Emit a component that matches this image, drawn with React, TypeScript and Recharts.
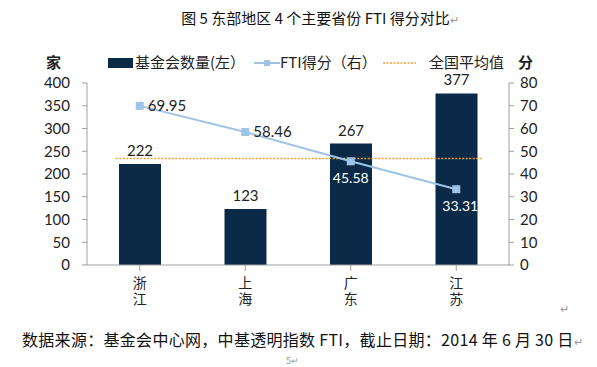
import React from 'react';
import { ComposedChart, Bar, Line, XAxis, YAxis, ReferenceLine, LabelList } from 'recharts';

const provinces = ['浙江', '上海', '广东', '江苏'];
const foundationCounts = [222, 123, 267, 377];
const ftiScores = [69.95, 58.46, 45.58, 33.31];
const nationalAverage = 46.8;
const leftTicks = [0, 50, 100, 150, 200, 250, 300, 350, 400];
const rightTicks = [0, 10, 20, 30, 40, 50, 60, 70, 80];

const chartData = provinces.map((name, i) => ({
  name,
  count: foundationCounts[i],
  fti: ftiScores[i],
}));

const NAVY = '#0B2A47';
const LIGHT_BLUE = '#9DC3E6';
const ORANGE = '#F0A030';
const AXIS = '#A0A0A0';
const FONT = "Lato, 'Noto Sans CJK SC', sans-serif";
const CJK = "'Noto Sans CJK SC', sans-serif";

// province names are written top to bottom, one character per line
function ProvinceTick(props: any) {
  const { x, y, payload } = props;
  const chars = String(payload.value).split('');
  return (
    <g>
      {chars.map((c, i) => (
        <text key={i} x={x} y={y + 15 + i * 16} textAnchor="middle" fontSize={14} fill="#222" fontFamily={CJK}>
          {c}
        </text>
      ))}
    </g>
  );
}

function FtiLabel(props: any) {
  const { x, y, value, index } = props;
  if (index < 2) {
    return (
      <text x={x + 8} y={y + 5} fontSize={15} fill="#222" fontFamily={FONT}>{value}</text>
    );
  }
  return (
    <text x={x + (index === 3 ? 4 : 0)} y={y + 22} textAnchor="middle" fontSize={14} fill="#fff" fontFamily={FONT}>
      {value}
    </text>
  );
}

// dashed average line, running a bit past the outer bars like the original
const averageShape = (p: any) => (
  <line x1={p.x1 - 24} y1={p.y1} x2={p.x2 + 26} y2={p.y2} stroke={ORANGE} strokeWidth={1.5} strokeDasharray="2 1.5" />
);

export default function App() {
  return (
    <div style={{ position: 'absolute', left: 0, top: 0, width: 597, height: 367, background: '#fff', fontFamily: CJK }}>
      <div style={{ position: 'absolute', left: 0, width: 640, top: 7, textAlign: 'center', fontSize: 15, color: '#111' }}>
        图 5 东部地区 4 个主要省份 FTI 得分对比<span style={{ color: '#999', fontSize: 11 }}>↵</span>
      </div>

      <div style={{ position: 'absolute', left: 46, top: 51, fontSize: 15, fontWeight: 'bold', color: '#222' }}>家</div>
      <div style={{ position: 'absolute', left: 518, top: 51, fontSize: 15, fontWeight: 'bold', color: '#222' }}>分</div>
      <div style={{ position: 'absolute', left: 108, top: 58, width: 25, height: 10, background: NAVY }} />
      <div style={{ position: 'absolute', left: 135, top: 51, fontSize: 15, color: '#222' }}>基金会数量(左）</div>
      <svg style={{ position: 'absolute', left: 254, top: 57 }} width={26} height={12}>
        <line x1={0} y1={6} x2={26} y2={6} stroke={LIGHT_BLUE} strokeWidth={2} />
        <rect x={10} y={3} width={6} height={6} fill={LIGHT_BLUE} />
      </svg>
      <div style={{ position: 'absolute', left: 280, top: 51, fontSize: 15, color: '#222' }}>FTI得分（右）</div>
      <svg style={{ position: 'absolute', left: 383, top: 57 }} width={33} height={12}>
        <line x1={0} y1={6} x2={33} y2={6} stroke={ORANGE} strokeWidth={1.5} strokeDasharray="2 1.5" />
      </svg>
      <div style={{ position: 'absolute', left: 429, top: 51, fontSize: 15, color: '#222' }}>全国平均值</div>

      <div style={{ position: 'absolute', left: 0, top: 0 }}>
        <ComposedChart width={597} height={367} data={chartData} margin={{ top: 83, right: 48, bottom: 52, left: 27 }}>
          <XAxis
            dataKey="name"
            tick={<ProvinceTick />}
            tickLine={{ stroke: AXIS }}
            axisLine={{ stroke: AXIS }}
            interval={0}
            height={50}
          />
          <YAxis
            yAxisId="left"
            domain={[0, 400]}
            ticks={leftTicks}
            interval={0}
            width={60}
            tick={{ fontSize: 15, fill: '#222', fontFamily: FONT }}
            tickLine={{ stroke: AXIS }}
            axisLine={{ stroke: AXIS }}
            tickSize={5}
            tickMargin={12}
          />
          <YAxis
            yAxisId="right"
            orientation="right"
            domain={[0, 80]}
            ticks={rightTicks}
            interval={0}
            width={40}
            tick={{ fontSize: 15, fill: '#222', fontFamily: FONT }}
            tickLine={{ stroke: AXIS }}
            axisLine={{ stroke: AXIS }}
            tickSize={5}
            tickMargin={6}
          />
          <Bar yAxisId="left" dataKey="count" fill={NAVY} barSize={42} isAnimationActive={false}>
            <LabelList dataKey="count" position="top" offset={8} fontSize={15} fill="#222" fontFamily={FONT} />
          </Bar>
          <ReferenceLine
            yAxisId="right"
            segment={[
              { x: provinces[0], y: nationalAverage },
              { x: provinces[provinces.length - 1], y: nationalAverage },
            ]}
            shape={averageShape}
            ifOverflow="visible"
          />
          <Line
            yAxisId="right"
            dataKey="fti"
            stroke={LIGHT_BLUE}
            strokeWidth={2}
            dot={(p: any) => <rect key={p.index} x={p.cx - 4} y={p.cy - 4} width={8} height={8} fill={LIGHT_BLUE} />}
            activeDot={false}
            isAnimationActive={false}
          >
            <LabelList dataKey="fti" content={<FtiLabel />} />
          </Line>
        </ComposedChart>
      </div>

      <div style={{ position: 'absolute', left: 22, top: 327, fontSize: 16, color: '#111', whiteSpace: 'nowrap', letterSpacing: 0.3 }}>
        数据来源：基金会中心网，中基透明指数 FTI，截止日期：2014 年 6 月 30 日<span style={{ color: '#999', fontSize: 11 }}>↵</span>
      </div>
      <div style={{ position: 'absolute', left: 560, top: 300, fontSize: 11, color: '#999' }}>↵</div>
      <div style={{ position: 'absolute', left: 286, top: 354, fontSize: 9, color: '#999' }}>5↵</div>
    </div>
  );
}
